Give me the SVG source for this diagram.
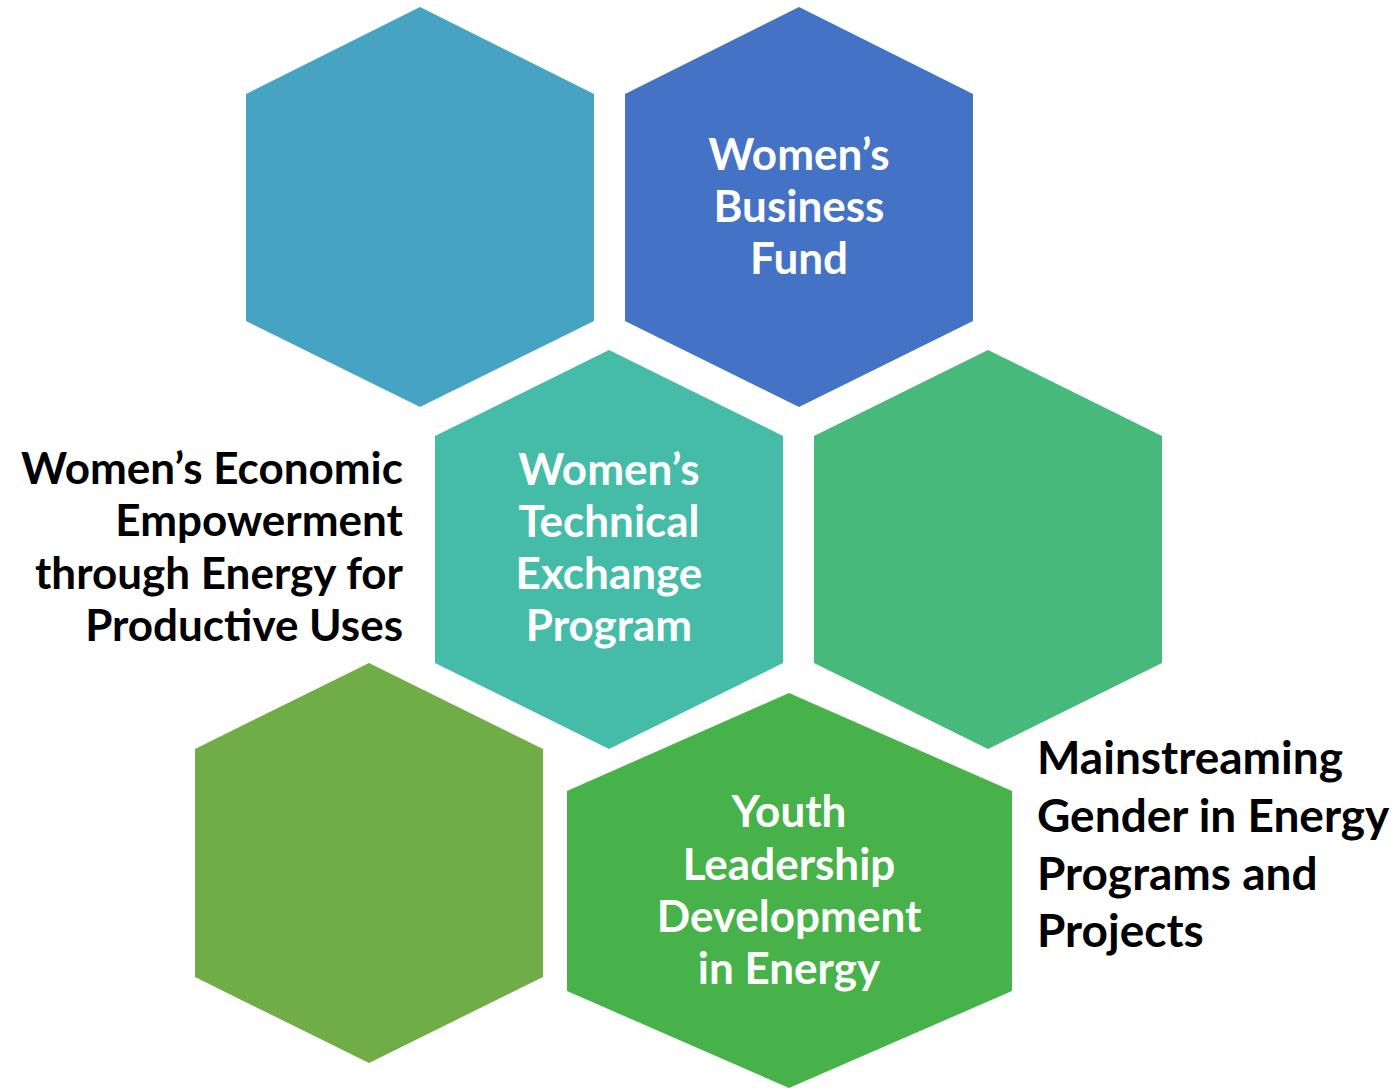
<svg xmlns="http://www.w3.org/2000/svg" width="1398" height="1089" viewBox="0 0 1398 1089">
<style>
.t{font-family:Lato,"Open Sans","Liberation Sans",sans-serif;font-weight:bold;font-size:44px}
.w{fill:#ffffff;text-anchor:middle}
.k{fill:#000000}
</style>
<rect width="1398" height="1089" fill="#ffffff"/>
<g id="hex1"><polygon points="420,7 594,94 594,321 420,407 246,321 246,94" fill="#46A4C2"/></g>
<g id="hex2"><polygon points="799,7 973,94 973,321 799,407 625,321 625,94" fill="#4472C4"/>
<text class="t w"><tspan x="799" y="170">Women’s</tspan><tspan x="799" y="222">Business</tspan><tspan x="799" y="274">Fund</tspan></text></g>
<g id="hex3"><polygon points="609,350 783,436 783,663 609,749 435,663 435,436" fill="#45BCA8"/>
<text class="t w"><tspan x="609" y="485">Women’s</tspan><tspan x="609" y="537">Technical</tspan><tspan x="609" y="589">Exchange</tspan><tspan x="609" y="641">Program</tspan></text></g>
<g id="hex4"><polygon points="988,350 1162,436 1162,663 988,749 814,663 814,436" fill="#47B97A"/></g>
<g id="hex5"><polygon points="369,663 543,749 543,977 369,1063 195,977 195,749" fill="#70AD47"/></g>
<g id="hex6"><polygon points="789,693 1012,791 1012,991 789,1088 567,991 567,791" fill="#47B249"/>
<text class="t w"><tspan x="789" y="827">Youth</tspan><tspan x="789" y="880">Leadership</tspan><tspan x="789" y="932">Development</tspan><tspan x="789" y="984">in Energy</tspan></text></g>
<g id="label-left"><text class="t k" text-anchor="end"><tspan x="403" y="484">Women’s Economic</tspan><tspan x="403" y="536">Empowerment</tspan><tspan x="403" y="589">through Energy for</tspan><tspan x="403" y="641">Productive Uses</tspan></text></g>
<g id="label-right"><text class="t k" style="font-size:46px"><tspan x="1037" y="774">Mainstreaming</tspan><tspan x="1037" y="832">Gender in Energy</tspan><tspan x="1037" y="890">Programs and</tspan><tspan x="1037" y="947">Projects</tspan></text></g>
<g id="connectors"></g>
</svg>
